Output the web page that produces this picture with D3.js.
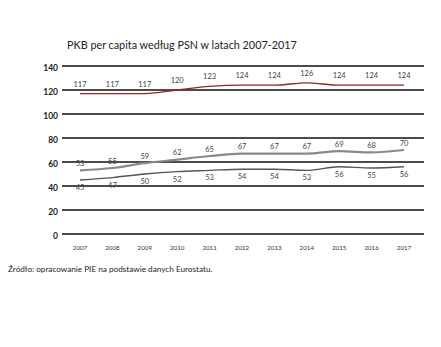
<!DOCTYPE html>
<html>
<head>
  <meta charset="utf-8">
  <title>PKB per capita</title>
  <style>
    body { margin: 0; background: #fff; }
    text { font-family: Lato, 'Open Sans', sans-serif; }
  </style>
</head>
<body>
  <div id="chart"></div>
  <script src="https://d3js.org/d3.v7.min.js"></script>
  <script>
    // years and series (PKB per capita wg PSN, UE = 100)
    let years = [2007, 2008, 2009, 2010, 2011, 2012, 2013, 2014, 2015, 2016, 2017];
    let topSeries = [117, 117, 117, 120, 123, 124, 124, 126, 124, 124, 124];
    let midSeries = [53, 55, 59, 62, 65, 67, 67, 67, 69, 68, 70];
    let lowSeries = [45, 47, 50, 52, 53, 54, 54, 53, 56, 55, 56];
    let yTicks = [0, 20, 40, 60, 80, 100, 120, 140];

    let svgWidth = 441, svgHeight = 347;

    let svg = d3.select('#chart').append('svg')
      .attr('width', svgWidth)
      .attr('height', svgHeight);

    let x = d3.scalePoint().domain(years).range([80, 404]);
    let y = d3.scaleLinear().domain([0, 140]).range([234, 66]);

    // title
    svg.append('text')
      .attr('x', 67).attr('y', 49)
      .attr('font-size', 10.8)
      .attr('fill', '#222')
      .text('PKB per capita według PSN w latach 2007-2017');

    // horizontal gridlines
    svg.append('g').selectAll('line')
      .data(yTicks)
      .join('line')
      .attr('x1', 62).attr('x2', 424)
      .attr('y1', d => y(d)).attr('y2', d => y(d))
      .attr('stroke', '#111')
      .attr('stroke-width', 1.4);

    svg.append('g').selectAll('text')
      .data(yTicks)
      .join('text')
      .attr('x', 58).attr('y', d => y(d) + 2)
      .attr('dominant-baseline', 'central')
      .attr('text-anchor', 'end')
      .attr('font-size', 8.5)
      .attr('font-weight', 'bold')
      .attr('fill', '#222')
      .text(d => d);

    // year labels
    svg.append('g').selectAll('text')
      .data(years)
      .join('text')
      .attr('x', d => x(d)).attr('y', 247)
      .attr('dominant-baseline', 'central')
      .attr('text-anchor', 'middle')
      .attr('font-size', 6.2)
      .attr('fill', '#333')
      .text(d => d);

    let line = d3.line()
      .x((d, i) => x(years[i]))
      .y(d => y(d))
      .curve(d3.curveMonotoneX);

    let series = [
      { values: topSeries, color: '#9e1f28', width: 1.3, dy: -9.5 },
      { values: midSeries, color: '#8a8a8a', width: 2.2, dy: -7 },
      { values: lowSeries, color: '#555', width: 1.4, dy: 7.5 }
    ];

    series.forEach(function (s) {
      svg.append('path')
        .attr('d', line(s.values))
        .attr('fill', 'none')
        .attr('stroke', s.color)
        .attr('stroke-width', s.width);

      svg.append('g').selectAll('text')
        .data(s.values)
        .join('text')
        .attr('x', (d, i) => x(years[i]))
        .attr('y', d => y(d) + s.dy)
        .attr('dominant-baseline', 'central')
        .attr('text-anchor', 'middle')
        .attr('font-size', 7.5)
        .attr('fill', '#444')
        .text(d => d);
    });

    // source note
    svg.append('text')
      .attr('x', 8).attr('y', 272)
      .attr('font-size', 8.2)
      .attr('fill', '#222')
      .text('Źródło: opracowanie PIE na podstawie danych Eurostatu.');
  </script>
</body>
</html>
